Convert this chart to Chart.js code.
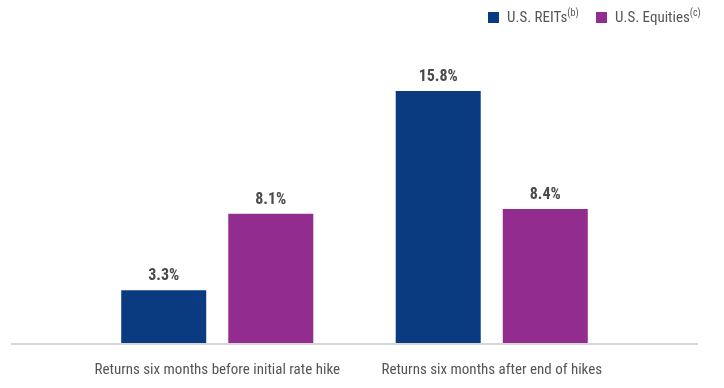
<!DOCTYPE html>
<html>
<head>
<meta charset="utf-8">
<script src="https://cdn.jsdelivr.net/npm/chart.js@4"></script>
<style>
  html, body { margin: 0; padding: 0; background: #fff; }
  .wrap { position: relative; width: 724px; height: 388px; }
  .legend { position: absolute; top: 7px; left: 488px; font-family: "Roboto Condensed", sans-serif; font-size: 15px; color: #555; white-space: nowrap; }
  .legend span.item { display: inline-block; margin-right: 14px; }
  .legend i { display: inline-block; width: 11px; height: 11px; margin-right: 8px; vertical-align: -1px; }
  .legend sup { font-size: 10px; }
</style>
</head>
<body>
<div class="wrap">
  <canvas id="chart" width="724" height="388"></canvas>
  <div class="legend">
    <span class="item"><i style="background:#0a3a80"></i>U.S. REITs<sup>(b)</sup></span>
    <span class="item"><i style="background:#922d8f"></i>U.S. Equities<sup>(c)</sup></span>
  </div>
</div>
<script>
const categories = ["Returns six months before initial rate hike", "Returns six months after end of hikes"];
const reits = [3.3, 15.8];
const equities = [8.1, 8.4];

// value labels above bars
const valueLabels = {
  id: "valueLabels",
  afterDatasetsDraw(chart) {
    const ctx = chart.ctx;
    ctx.save();
    ctx.font = "bold 16px 'Roboto Condensed', sans-serif";
    ctx.fillStyle = "#4a4a4a";
    ctx.textAlign = "center";
    ctx.textBaseline = "bottom";
    chart.data.datasets.forEach((ds, i) => {
      chart.getDatasetMeta(i).data.forEach((bar, j) => {
        ctx.fillText(ds.data[j].toFixed(1) + "%", bar.x, bar.y - 6);
      });
    });
    ctx.restore();
  }
};

// baseline wider than the plot area
const baseline = {
  id: "baseline",
  beforeDatasetsDraw(chart) {
    const ctx = chart.ctx;
    const y = chart.scales.y.getPixelForValue(0);
    ctx.save();
    ctx.strokeStyle = "#d6d6d6";
    ctx.lineWidth = 2;
    ctx.beginPath();
    ctx.moveTo(11, y + 1);
    ctx.lineTo(698, y + 1);
    ctx.stroke();
    ctx.restore();
  }
};

new Chart(document.getElementById("chart"), {
  type: "bar",
  data: {
    labels: categories,
    datasets: [
      { label: "U.S. REITs", data: reits, backgroundColor: "#0a3a80" },
      { label: "U.S. Equities", data: equities, backgroundColor: "#922d8f" }
    ]
  },
  options: {
    responsive: false,
    animation: false,
    layout: { padding: { left: 80, right: 95, top: 24, bottom: -9 } },
    categoryPercentage: 0.78,
    barPercentage: 0.794,
    plugins: { legend: { display: false }, tooltip: { enabled: false } },
    scales: {
      x: {
        grid: { display: false, drawTicks: false },
        border: { display: false },
        ticks: {
          color: "#555",
          padding: 18,
          maxRotation: 0,
          minRotation: 0,
          autoSkip: false,
          font: { family: "'Roboto Condensed', sans-serif", size: 15 }
        }
      },
      y: {
        display: false,
        min: 0,
        max: 20
      }
    }
  },
  plugins: [baseline, valueLabels]
});
</script>
</body>
</html>
